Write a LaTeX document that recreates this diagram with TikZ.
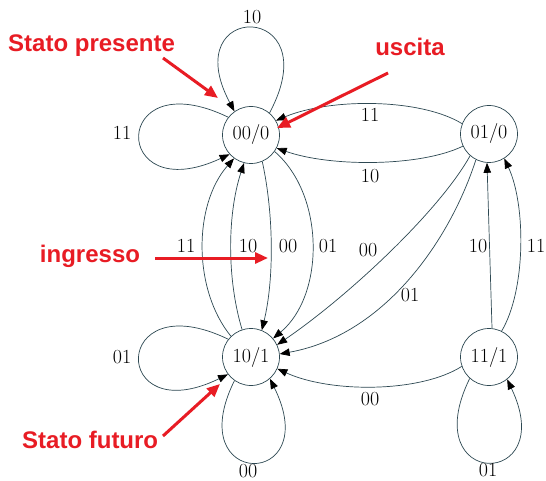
\documentclass[tikz,border=0pt]{standalone}
\usepackage{fontspec}
\newfontfamily\annotfont{Liberation Sans}
\usetikzlibrary{arrows.meta}
\definecolor{edgecol}{RGB}{45,72,82}
\definecolor{annred}{RGB}{232,28,36}
\tikzset{
  state/.style={circle, draw=edgecol, line width=0.7pt, minimum size=57pt, inner sep=0pt, font=\fontsize{20}{24}\selectfont},
  trans/.style={draw=edgecol, line width=0.7pt, -{Triangle[length=10pt,width=7.5pt,fill=black,color=black]}},
  lab/.style={inner sep=0pt, font=\fontsize{20}{24}\selectfont},
  annot/.style={inner sep=0pt, text=annred, font=\annotfont\bfseries\fontsize{24}{28}\selectfont},
  annarrow/.style={draw=annred, line width=3pt, -{Triangle[length=13pt,width=11pt]}}
}
\begin{document}
\begin{tikzpicture}[x=1pt,y=-1pt]
\useasboundingbox (0,0) rectangle (546,481);
\fill[white] (0,0) rectangle (546,481);
% states
\node[state] (A) at (251,135) {00/0};
\node[state] (B) at (489,134) {01/0};
\node[state] (C) at (251,357) {10/1};
\node[state] (D) at (489,357) {11/1};
% loops
\draw[trans] (A.50) .. controls (330,0) and (175,0) .. (A.125);
\draw[trans] (A.142) .. controls (110,60) and (110,210) .. (A.222);
\draw[trans] (C.142) .. controls (110,282) and (110,432) .. (C.217);
\draw[trans] (C.235) .. controls (180,490) and (325,490) .. (C.311);
\draw[trans] (D.228) .. controls (415,490) and (560,490) .. (D.309);
% B -> A
\draw[trans] (B.159) .. controls (420,98) and (330,98) .. (A.30);
\draw[trans] (B.205) .. controls (420,167) and (330,167) .. (A.333);
% C -> A
\draw[trans] (C.134) .. controls (193,290) and (193,205) .. (A.234);
\draw[trans] (C.108) .. controls (227,280) and (227,215) .. (A.256);
% A -> C
\draw[trans] (A.293) .. controls (274,215) and (274,280) .. (C.68);
\draw[trans] (A.325) .. controls (325,195) and (325,295) .. (C.40);
% B -> C
\draw[trans] (B.229) .. controls (440,210) and (350,295) .. (C.25);
\draw[trans] (B.243) .. controls (450,240) and (385,335) .. (C.6);
% D -> B
\draw[trans] (D.84) -- (B.266);
\draw[trans] (D.64) .. controls (526,290) and (526,205) .. (B.302);
% D -> C
\draw[trans] (D.199) .. controls (420,393) and (330,393) .. (C.336);
% labels
\node[lab] (lA10) at (252,17) {10};
\node[lab] (lA11) at (122,133) {11};
\node[lab] (lBA11) at (370,115) {11};
\node[lab] (lBA10) at (370,176) {10};
\node[lab] (lCA11) at (186,246) {11};
\node[lab] (lCA10) at (248,246) {10};
\node[lab] (lAC00) at (288,246) {00};
\node[lab] (lAC01) at (328,246) {01};
\node[lab] (lBC00) at (368,250) {00};
\node[lab] (lBC01) at (410,295) {01};
\node[lab] (lDB10) at (478,246) {10};
\node[lab] (lDB11) at (536,246) {11};
\node[lab] (lDC00) at (370,399) {00};
\node[lab] (lD01) at (488,470) {01};
\node[lab] (lC01) at (122,357) {01};
\node[lab] (lC00) at (248,471) {00};
% annotations
\node[annot, anchor=west] (tpres) at (8,46) {Stato presente};
\node[annot] (tusc) at (410,47) {uscita};
\node[annot] (ting) at (90,256) {ingresso};
\node[annot, anchor=west] (tfut) at (22,440) {Stato futuro};
\coordinate (p1s) at (163,58); \coordinate (p1e) at (218,98);
\coordinate (p2s) at (388,73); \coordinate (p2e) at (277,128);
\coordinate (p3s) at (155,258); \coordinate (p3e) at (268,258);
\coordinate (p4s) at (163,436); \coordinate (p4e) at (220,384);
\draw[annarrow] (p1s) -- (p1e);
\draw[annarrow] (p2s) -- (p2e);
\draw[annarrow] (p3s) -- (p3e);
\draw[annarrow] (p4s) -- (p4e);
\end{tikzpicture}
\end{document}
